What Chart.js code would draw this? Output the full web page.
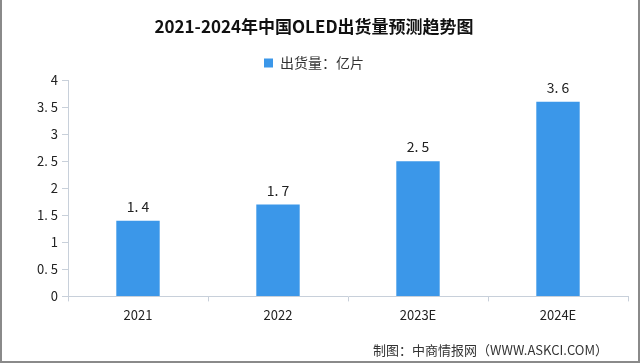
<!DOCTYPE html>
<html>
<head>
<meta charset="utf-8">
<script src="https://cdn.jsdelivr.net/npm/chart.js@4.4.0/dist/chart.umd.min.js"></script>
<style>
    html, body { margin: 0; padding: 0; background: #fff; }
    #wrap { position: relative; width: 640px; height: 363px; }
    #frame { position: absolute; left: 0; top: 0; width: 640px; height: 363px; box-sizing: border-box;
             border-left: 2px solid #8a8a8a; border-right: 2px solid #8a8a8a; border-bottom: 2px solid #8a8a8a; pointer-events: none; }
    #source { position: absolute; right: 32px; top: 340px; font: 13px "Noto Sans CJK SC", sans-serif; color: #333; }
</style>
</head>
<body>
<div id="wrap">
    <canvas id="myChart" width="640" height="363"></canvas>
    <div id="source">制图：中商情报网（WWW.ASKCI.COM）</div>
    <div id="frame"></div>
</div>
<script>
var titulo = '2021-2024年中国OLED出货量预测趋势图';
var serie = '出货量：亿片';
var años = ['2021', '2022', '2023E', '2024E'];
var valores = [1.4, 1.7, 2.5, 3.6];

var fuente = '"Noto Sans CJK SC", sans-serif';

// numeros con punto ancho como en la imagen
function conPunto(v) {
    return String(v).replace('.', '. ');
}

var etiquetas = {
    id: 'etiquetas',
    afterDatasetsDraw: function (chart) {
        var ctx = chart.ctx;
        var meta = chart.getDatasetMeta(0);
        ctx.save();
        ctx.font = '14px ' + fuente;
        ctx.fillStyle = '#222';
        ctx.textAlign = 'center';
        ctx.textBaseline = 'bottom';
        meta.data.forEach(function (bar, i) {
            ctx.fillText(conPunto(valores[i]), bar.x, bar.y - 7);
        });
        ctx.restore();
    }
};

var ctx = document.getElementById('myChart').getContext('2d');
var chart = new Chart(ctx, {
    type: 'bar',
    data: {
        labels: años,
        datasets: [{
            label: serie,
            data: valores,
            backgroundColor: '#3b97e9',
            barPercentage: 0.31,
            categoryPercentage: 1
        }]
    },
    options: {
        responsive: false,
        animation: false,
        layout: { padding: { left: 0, right: 12, top: 0, bottom: 34 } },
        plugins: {
            title: {
                display: true,
                text: titulo,
                color: '#111',
                font: { family: fuente, size: 17, weight: 'bold' },
                padding: { top: 12, bottom: 5 }
            },
            legend: {
                display: true,
                labels: {
                    color: '#333',
                    font: { family: fuente, size: 14 },
                    boxWidth: 9,
                    boxHeight: 9,
                    padding: 14
                }
            },
            tooltip: { enabled: false }
        },
        scales: {
            x: {
                grid: { display: true, drawOnChartArea: false, color: '#c8d0da', tickLength: 5 },
                border: { color: '#c8d0da' },
                ticks: { color: '#222', font: { family: fuente, size: 13 }, padding: 6 }
            },
            y: {
                min: 0,
                max: 4,
                afterFit: function (scale) {
                    scale.width = 68;
                    scale.paddingTop = 80;   // el area del grafico empieza mas abajo
                },
                grid: { display: true, drawOnChartArea: false, color: '#c8d0da', tickLength: 6 },
                border: { color: '#c8d0da' },
                ticks: {
                    stepSize: 0.5,
                    color: '#222',
                    font: { family: fuente, size: 13 },
                    padding: 4,
                    callback: function (v) { return conPunto(v); }
                }
            }
        }
    },
    plugins: [etiquetas]
});
</script>
</body>
</html>
